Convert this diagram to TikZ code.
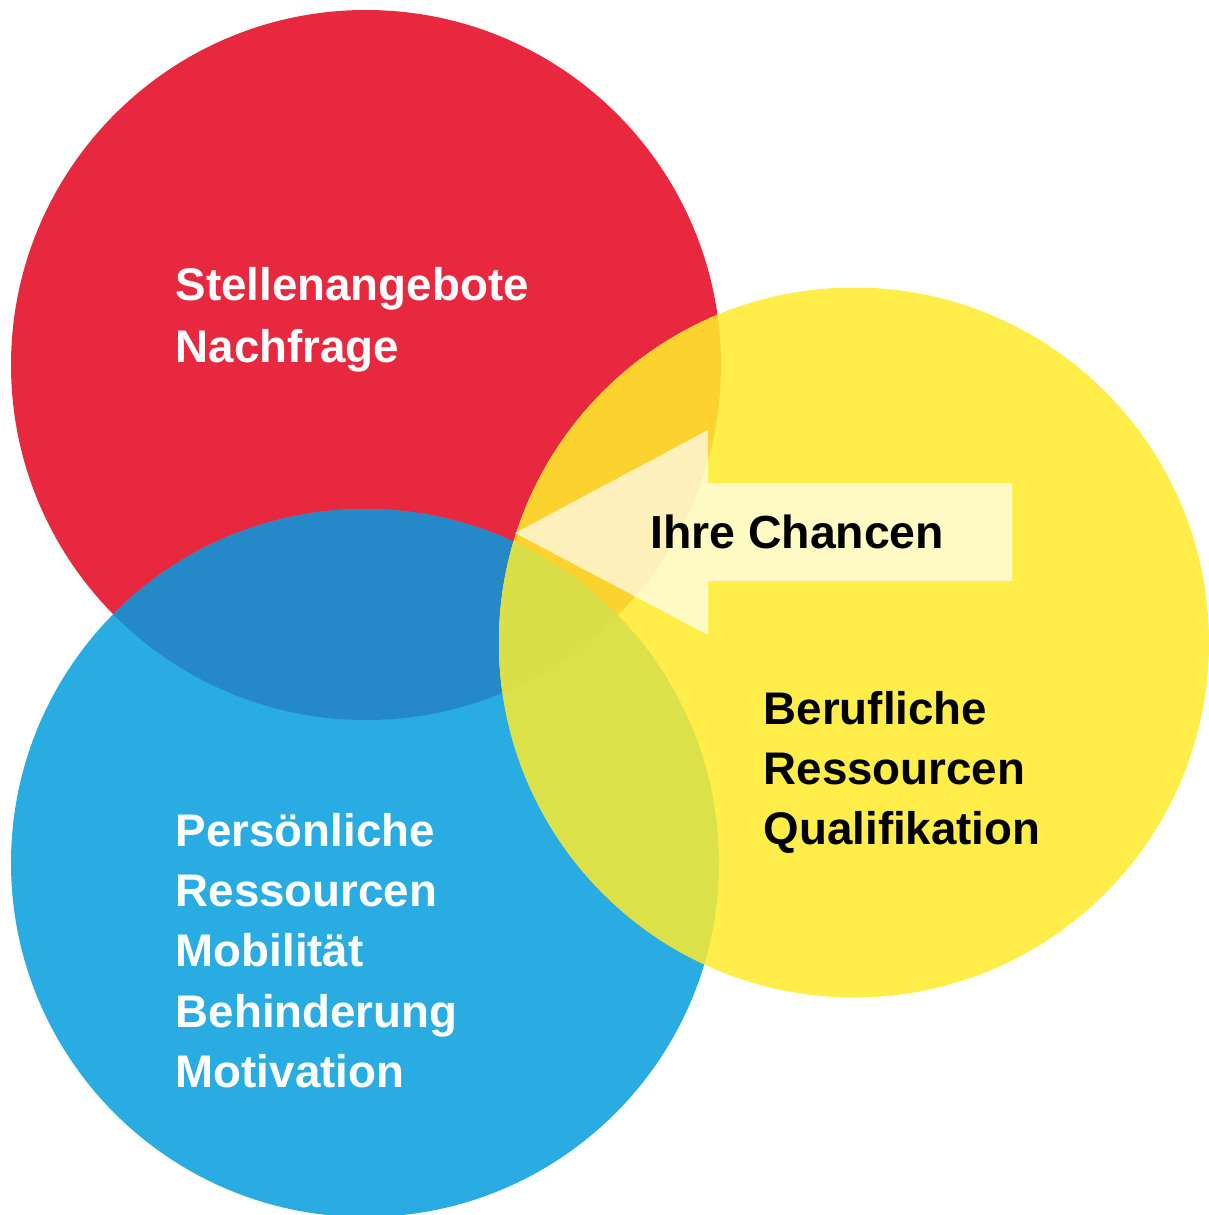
\documentclass[tikz,border=0pt]{standalone}
\usepackage{fontspec}
\setmainfont{Liberation Sans}
\definecolor{cred}{HTML}{E8283F}
\definecolor{cblue}{HTML}{29ACE2}
\definecolor{credblue}{HTML}{2589C8}
\definecolor{cyellow}{HTML}{FFEE4A}
\definecolor{credyel}{HTML}{FBD22E}
\definecolor{cblueyel}{HTML}{DCE14A}
\definecolor{call}{HTML}{DADF47}
\begin{document}
\begin{tikzpicture}[x=1pt,y=-1pt,
  txt/.style={anchor=base west,inner sep=0pt,font=\bfseries\fontsize{45.7}{60.2}\selectfont},
  arrowshape/.style={fill=white,fill opacity=0.68}]
\clip (0,0) rectangle (1209,1215);
\coordinate (R) at (366,365);
\coordinate (B) at (365,863);
\coordinate (Y) at (854,642.5);
% circles
\fill[cred] (R) circle[radius=355pt];
\fill[cblue] (B) circle[radius=354pt];
\begin{scope}
  \clip (R) circle[radius=355pt];
  \fill[credblue] (B) circle[radius=354pt];
\end{scope}
\fill[cyellow] (Y) circle[radius=355pt];
\begin{scope}
  \clip (Y) circle[radius=355pt];
  \fill[credyel] (R) circle[radius=355pt];
  \fill[cblueyel] (B) circle[radius=354pt];
  \clip (R) circle[radius=355pt];
  \fill[call] (B) circle[radius=354pt];
\end{scope}
% arrow
\coordinate (tip) at (515,533);
\fill[arrowshape] (tip) -- (708,430) -- (708,483) -- (1012,483) -- (1012,581) -- (708,581) -- (708,635) -- cycle;
% texts
\node[txt,white] (demand) at (175.5,300) {\begin{tabular}[t]{@{}l@{}}Stellenangebote\\[1.8pt]Nachfrage\end{tabular}};
\node[txt,white] (personal) at (175.5,846.5) {\begin{tabular}[t]{@{}l@{}}Persönliche\\Ressourcen\\Mobilität\\Behinderung\\Motivation\end{tabular}};
\node[txt,black] (professional) at (763.5,724.3) {\begin{tabular}[t]{@{}l@{}}Berufliche\\Ressourcen\\Qualifikation\end{tabular}};
\node[txt,black,font=\bfseries\fontsize{46.4}{55}\selectfont] (chances) at (650,548) {Ihre Chancen};
\end{tikzpicture}
\end{document}
